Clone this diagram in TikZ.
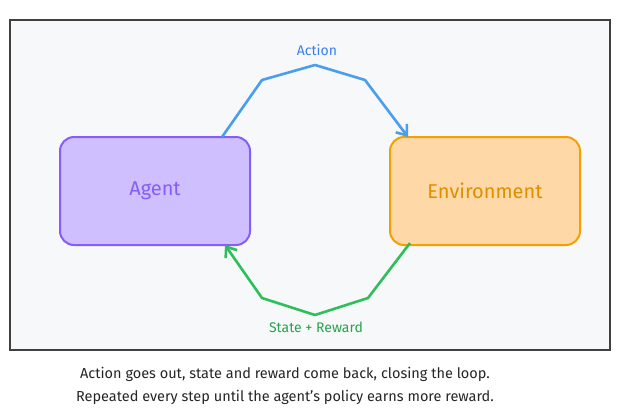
\documentclass[tikz,border=0pt]{standalone}
\usepackage{fontspec}
\setmainfont{Fira Sans}
\usetikzlibrary{positioning,arrows.meta}
\definecolor{agentfill}{HTML}{D0BFFF}
\definecolor{agentline}{HTML}{845EF7}
\definecolor{envfill}{HTML}{FFD8A8}
\definecolor{envline}{HTML}{F59F00}
\definecolor{actblue}{HTML}{4A9EED}
\definecolor{rewgreen}{HTML}{2FBF5A}
\definecolor{framebg}{HTML}{F7F8FA}
\begin{document}
\begin{tikzpicture}[x=1pt,y=-1pt,
  box/.style={rounded corners=14pt, line width=2pt, minimum width=190pt, minimum height=108pt, font=\fontsize{20}{24}\selectfont},
  loop/.style={line width=2.6pt, line join=round, -{Straight Barb[length=9pt,width=14pt]}},
  tag/.style={font=\fontsize{14}{17}\selectfont}]
  % background and frame
  \useasboundingbox (0,0) rectangle (620,418);
  \fill[white] (0,0) rectangle (620,418);
  \draw[fill=framebg, draw=black!75, line width=1.2pt] (10,20) rectangle (610,350);
  % the two parties
  \node[box, fill=agentfill, draw=agentline, text=agentline] (agent) at (155,191) {Agent};
  \node[box, fill=envfill, draw=envline, text=envline!90!black] (env) at (485,191) {Environment};
  % action goes out
  \coordinate (a1) at (262,80); \coordinate (a2) at (315,65); \coordinate (a3) at (365,80);
  \draw[loop, actblue] (222,137) -- (a1) -- (a2) -- (a3) -- (408,137);
  \node[tag, text=actblue!80!blue] at (317,50) {Action};
  % state and reward come back
  \coordinate (r1) at (368,298); \coordinate (r2) at (315,315); \coordinate (r3) at (262,298);
  \draw[loop, rewgreen] (410,243) -- (r1) -- (r2) -- (r3) -- (225,245);
  \node[tag, text=rewgreen!85!black] at (316,327) {State + Reward};
  % caption
  \node[align=center, text=black!85, font=\fontsize{14.5}{23}\selectfont] at (285,386) {Action goes out, state and reward come back, closing the loop.\\Repeated every step until the agent's policy earns more reward.};
\end{tikzpicture}
\end{document}
